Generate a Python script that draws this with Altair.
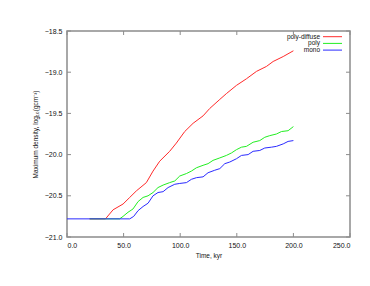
import altair as alt
import pandas as pd

series_names = ["poly-diffuse", "poly", "mono"]
series_colors = ["#ff2a2a", "#22ee22", "#2a2aff"]

red_t = [20, 34, 40.7, 49.5, 55.4, 61.3, 70.1, 76, 81.9, 90.7, 96.6, 104, 111.4, 120.2, 126.1,
         135, 140.8, 149.7, 158.5, 167.4, 176.2, 182.1, 191, 200]
red_v = [-20.78, -20.78, -20.67, -20.60, -20.52, -20.44, -20.34, -20.20, -20.08, -19.96, -19.86,
         -19.72, -19.62, -19.53, -19.44, -19.33, -19.26, -19.16, -19.08, -18.99, -18.93, -18.87,
         -18.81, -18.74]

green_t = [20, 46.5, 49.5, 53.9, 58.3, 62.8, 67.2, 71.6, 76, 80.4, 84.9, 90.7, 95.2, 99.6, 105.5,
           109.9, 114.3, 120.2, 124.6, 129, 135, 140.8, 145.3, 149.7, 154.1, 158.5, 164.4, 170.3,
           174.7, 179.1, 185, 189.5, 195.3, 200]
green_v = [-20.78, -20.78, -20.75, -20.70, -20.66, -20.57, -20.52, -20.50, -20.46, -20.40, -20.37,
           -20.34, -20.32, -20.26, -20.23, -20.20, -20.16, -20.13, -20.11, -20.07, -20.04, -20.01,
           -19.98, -19.94, -19.91, -19.90, -19.85, -19.83, -19.79, -19.77, -19.75, -19.72, -19.71,
           -19.66]

blue_t = [0, 55.4, 58.9, 62.8, 67.2, 71.6, 76, 80.4, 84.9, 89.3, 95.2, 99.6, 105.5, 109.9, 114.3,
          120.2, 124.6, 130.5, 135, 139.4, 143.8, 149.7, 154.1, 160, 164.4, 170.3, 174.7, 180.6,
          185, 191, 195.3, 200]
blue_v = [-20.78, -20.78, -20.75, -20.68, -20.63, -20.59, -20.50, -20.46, -20.45, -20.40, -20.36,
          -20.35, -20.34, -20.30, -20.28, -20.27, -20.22, -20.19, -20.17, -20.11, -20.09, -20.05,
          -20.01, -20.00, -19.96, -19.95, -19.92, -19.91, -19.90, -19.87, -19.84, -19.83]

x_ticks = [0, 50, 100, 150, 200, 250]
y_ticks = [-21.0, -20.5, -20.0, -19.5, -19.0, -18.5]

W, H = 283, 206
FONT = "Liberation Sans"
GRAY = "#8c8c8c"
TICK = 4

xs = alt.Scale(domain=[0, 250], nice=False, zero=False)
ys = alt.Scale(domain=[-21.0, -18.5], nice=False, zero=False)
x_axis = alt.Axis(values=x_ticks, format=".1f", ticks=False, domain=False, grid=False,
                  labelPadding=4, titlePadding=4)
y_axis = alt.Axis(values=y_ticks, format=".1f", ticks=False, domain=False, grid=False,
                  labelPadding=5, titlePadding=6)
X_TITLE = "Time, kyr"
Y_TITLE = "Maximum density, log₁₀(gcm⁻³)"


def xenc():
    return alt.X("time:Q", scale=xs, title=X_TITLE, axis=x_axis)


def yenc():
    return alt.Y("value:Q", scale=ys, title=Y_TITLE, axis=y_axis)


all_series = [(red_t, red_v), (green_t, green_v), (blue_t, blue_v)]

layers = []
for i, (name, (t, v)) in enumerate(zip(series_names, all_series)):
    df = pd.DataFrame({"time": t, "value": v, "series": name})
    layers.append(alt.Chart(df).mark_line(color=series_colors[i], strokeWidth=1).encode(
        x=xenc(), y=yenc()))

# inward ticks on all four sides
xt = pd.DataFrame({"time": x_ticks})
yt = pd.DataFrame({"value": y_ticks})
layers.append(alt.Chart(xt).mark_rule(color=GRAY, strokeWidth=1).encode(
    x=xenc(), y=alt.value(H), y2=alt.value(H - TICK)))
layers.append(alt.Chart(xt).mark_rule(color=GRAY, strokeWidth=1).encode(
    x=xenc(), y=alt.value(0), y2=alt.value(TICK)))
layers.append(alt.Chart(yt).mark_rule(color=GRAY, strokeWidth=1).encode(
    y=yenc(), x=alt.value(0), x2=alt.value(TICK)))
layers.append(alt.Chart(yt).mark_rule(color=GRAY, strokeWidth=1).encode(
    y=yenc(), x=alt.value(W), x2=alt.value(W - TICK)))

# legend (top-right, labels left of line samples)
for i, name in enumerate(series_names):
    ld = pd.DataFrame({"series": [name]})
    yy = 5.7 + i * 6.7
    layers.append(alt.Chart(ld).mark_text(align="right", baseline="middle", font=FONT,
                                          fontSize=6.5, color="#111111").encode(
        text="series:N", x=alt.value(253), y=alt.value(yy)))
    layers.append(alt.Chart(ld).mark_rule(color=series_colors[i], strokeWidth=1).encode(
        x=alt.value(256), x2=alt.value(275), y=alt.value(yy)))

chart = alt.layer(*layers).properties(
    width=W, height=H,
    autosize=alt.AutoSizeParams(type="none"),
    padding={"left": 59, "top": 23, "right": 12, "bottom": 26},
    background="white",
).configure_view(stroke=GRAY, strokeWidth=1.5).configure_axis(
    labelFont=FONT, titleFont=FONT, labelFontSize=7, titleFontSize=6.5,
    labelColor="#111111", titleColor="#111111", titleFontWeight="normal",
)

chart.save("out.html", embed_options={"renderer": "svg", "actions": False})
